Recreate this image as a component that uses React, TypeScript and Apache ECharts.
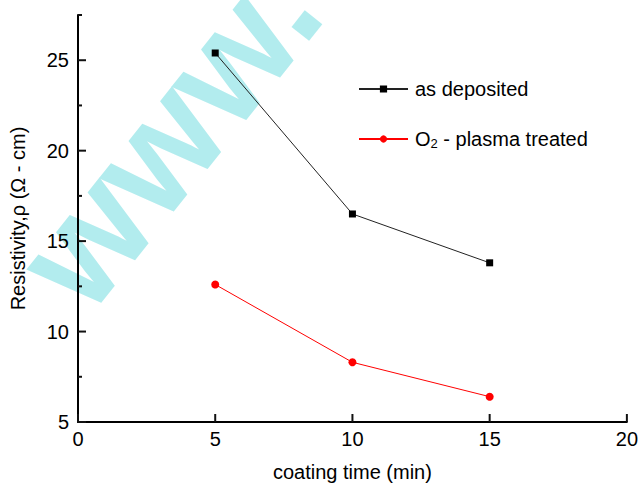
import React, { useEffect, useRef } from 'react';
import * as echarts from 'echarts';

const coatingTime = [5, 10, 15];
const asDeposited = [25.4, 16.5, 13.8];
const plasmaTreated = [12.6, 8.3, 6.4];
const xTicks = [0, 5, 10, 15, 20];
const yMajorTicks = [5, 10, 15, 20, 25];
const yMinorTicks = [7.5, 12.5, 17.5, 22.5, 27.5];
const xMin = 0;
const xMax = 20;
const yMin = 5;
const yMax = 27.5;
const seriesNames = ['as deposited', 'O2 - plasma treated'];

const FONT = 'Liberation Sans, Arial, sans-serif';

function tickSeries(name: string, data: number[][], dx: number, dy: number) {
  return {
    name,
    type: 'custom',
    data,
    renderItem: (_params: any, api: any) => {
      const p = api.coord([api.value(0), api.value(1)]);
      return {
        type: 'line',
        shape: { x1: p[0], y1: p[1], x2: p[0] + dx, y2: p[1] + dy },
        style: { stroke: '#111111', lineWidth: 2 },
      };
    },
  };
}

export default function App() {
  const ref = useRef<HTMLDivElement>(null);
  useEffect(() => {
    if (!ref.current) return;
    const chart = echarts.init(ref.current, null, { renderer: 'svg' });
    chart.setOption({
      animation: false,
      grid: { left: 77, right: 13, top: 15, bottom: 60 },
      graphic: [
        {
          type: 'text',
          x: 168,
          y: 135,
          rotation: 0.9,
          silent: true,
          style: {
            text: 'www.',
            fill: '#b2ecee',
            fontSize: 150,
            fontWeight: 'bold',
            fontFamily: FONT,
            align: 'center',
            verticalAlign: 'middle',
          },
        },
      ],
      legend: {
        orient: 'vertical',
        left: 358,
        top: 79,
        padding: 0,
        itemWidth: 49,
        itemHeight: 9,
        itemGap: 30,
        data: seriesNames,
        formatter: (name: string) => (name === seriesNames[1] ? 'O{sub|2} - plasma treated' : name),
        textStyle: {
          fontSize: 20,
          color: '#000',
          fontFamily: FONT,
          padding: [0, 0, 0, 2],
          rich: {
            sub: { fontSize: 13, verticalAlign: 'bottom', padding: [9, 0, 0, 0], fontFamily: FONT, color: '#000' },
          },
        },
      },
      xAxis: {
        type: 'value',
        min: xMin,
        max: xMax,
        interval: 5,
        name: 'coating time (min)',
        nameLocation: 'middle',
        nameGap: 40,
        nameTextStyle: { fontSize: 20, color: '#000', fontFamily: FONT },
        axisLine: { show: true, onZero: false, lineStyle: { color: '#000', width: 2 } },
        axisTick: { show: false },
        axisLabel: { color: '#000', fontSize: 20, margin: 7, fontFamily: FONT },
        splitLine: { show: false },
      },
      yAxis: {
        type: 'value',
        min: yMin,
        max: yMax,
        interval: 5,
        name: 'Resistivity,ρ (Ω - cm)',
        nameLocation: 'middle',
        nameGap: 50,
        nameTextStyle: { fontSize: 20, color: '#000', fontFamily: FONT },
        axisLine: { show: true, onZero: false, lineStyle: { color: '#000', width: 2 } },
        axisTick: { show: false },
        axisLabel: { color: '#000', fontSize: 20, margin: 9, showMaxLabel: false, fontFamily: FONT },
        splitLine: { show: false },
      },
      series: [
        tickSeries('xticks', xTicks.map((v) => [v, yMin]), 0, -8),
        tickSeries('ymajor', yMajorTicks.map((v) => [xMin, v]), 8, 0),
        tickSeries('yminor', yMinorTicks.map((v) => [xMin, v]), 4, 0),
        {
          name: seriesNames[0],
          type: 'line',
          data: coatingTime.map((t, i) => [t, asDeposited[i]]),
          symbol: 'rect',
          symbolSize: 7,
          itemStyle: { color: '#000' },
          lineStyle: { color: '#222', width: 1 },
        },
        {
          name: seriesNames[1],
          type: 'line',
          data: coatingTime.map((t, i) => [t, plasmaTreated[i]]),
          symbol: 'circle',
          symbolSize: 8,
          itemStyle: { color: '#ff0000' },
          lineStyle: { color: '#ff0000', width: 1 },
        },
      ],
    });
    return () => chart.dispose();
  }, []);
  return <div ref={ref} style={{ width: 641, height: 487, position: 'absolute', left: 0, top: 0, background: '#fff' }} />;
}
